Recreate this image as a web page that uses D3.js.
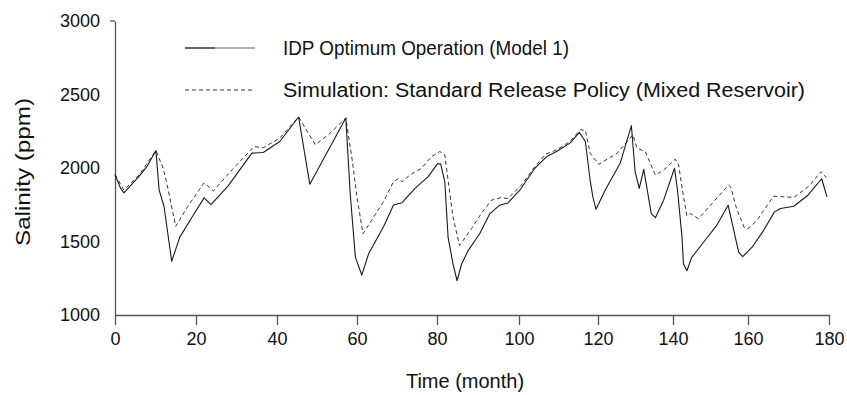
<!DOCTYPE html>
<html>
<head>
<meta charset="utf-8">
<script src="https://cdn.jsdelivr.net/npm/d3@7"></script>
<style>
  body { margin: 0; background: #fff; }
  svg { display: block; }
  text { font-family: "Liberation Sans", Arial, Helvetica, sans-serif; fill: #111; }
</style>
</head>
<body>
<svg id="chart" width="847" height="395"></svg>
<script>
// ---- data ----
const xTicks = [0, 20, 40, 60, 80, 100, 120, 140, 160, 180];
const yTicks = [1000, 1500, 2000, 2500, 3000];

// IDP optimum operation (Model 1): month, salinity (ppm)
const optMonths = [0, 1.4, 2.2, 6, 8, 10.1, 10.9, 12.1, 14, 16, 19, 22, 23.7, 28, 33.8, 36.6, 40.7, 45.4, 48.2,
  57.2, 58.3, 59.6, 61.2, 62.9, 66.6, 69.1, 70.4, 71.2, 74.5, 77.8, 80.1, 80.9, 81.9, 82.7, 83.9, 84.9, 86,
  87.6, 90.4, 92.9, 95.3, 97.3, 100.2, 104, 107, 109.5, 112.9, 115.3, 116.8, 118, 118.7, 119.5, 121.9, 125.9,
  128.9, 129.9, 131, 132.2, 134.2, 135.3, 137.5, 140.4, 141.2, 142.4, 142.8, 143.7, 145, 148.3, 151.8, 154.7,
  157.5, 158.6, 161, 163.5, 166.5, 168, 171.3, 174.8, 178.2, 179.5];
const optSalinity = [1955, 1861, 1831, 1945, 2015, 2119, 1849, 1740, 1365, 1530, 1665, 1797, 1751, 1880, 2101, 2105, 2180, 2347, 1890,
  2340, 1827, 1392, 1272, 1416, 1598, 1747, 1758, 1762, 1861, 1941, 2028, 2028, 1906, 1530, 1347, 1233, 1347,
  1438, 1553, 1690, 1747, 1762, 1849, 1998, 2078, 2112, 2169, 2242, 2180, 1918, 1803, 1719, 1849, 2032,
  2288, 1975, 1861, 1991, 1690, 1662, 1781, 1998, 1849, 1530, 1347, 1301, 1392, 1500, 1615, 1747,
  1427, 1397, 1461, 1560, 1700, 1725, 1740, 1815, 1927, 1803];

// Simulation, standard release policy (mixed reservoir): month, salinity (ppm)
const simMonths = [0, 2.2, 6, 10.1, 11.9, 12.8, 15, 18, 22, 24.3, 29, 34.3, 36.6, 40.7, 45.4, 49.6, 53, 57.2,
  58.8, 60, 61.5, 66.6, 69.1, 70.4, 71.2, 73.2, 76.1, 78.6, 80.7, 81.9, 82.7, 83.9, 85.5, 88.4, 90.8, 93.3,
  95.7, 97.3, 100.6, 104, 106.8, 109.5, 112.9, 115.5, 116.8, 118, 120.2, 125.1, 128.6, 129.3, 130.4, 132.6,
  135.3, 137.5, 140.6, 141.5, 142.8, 143.7, 144.7, 146.8, 154.8, 155.4, 157, 159, 160, 162.1, 166.3, 168.3,
  171.3, 175.2, 178, 178.6, 179.3];
const simSalinity = [1955, 1850, 1955, 2119, 1998, 1895, 1603, 1740, 1900, 1845, 1990, 2146, 2138, 2203, 2347, 2158, 2230, 2340,
  2055, 1803, 1553, 1770, 1906, 1929, 1906, 1952, 1998, 2077, 2112, 2089, 1918, 1667, 1473, 1587, 1690, 1781,
  1799, 1792, 1884, 2009, 2095, 2123, 2180, 2260, 2256, 2101, 2025, 2101, 2204, 2226, 2135, 2112,
  1952, 1986, 2060, 2021, 1803, 1675, 1690, 1655, 1884, 1870, 1720, 1595, 1587, 1640, 1808, 1805,
  1800, 1880, 1975, 1960, 1935];

const seriesNames = ["IDP Optimum Operation (Model 1)", "Simulation: Standard Release Policy (Mixed Reservoir)"];
const xTitle = "Time (month)";
const yTitle = "Salinity (ppm)";

// ---- layout ----
const svg = d3.select("#chart");
// pixel position of each month tick along the time axis
const xTickPx = [115, 196, 277, 357, 437, 519, 598, 673, 748, 829];
const x = d3.scaleLinear().domain(xTicks).range(xTickPx);
const y = d3.scaleLinear().domain([1000, 3000]).range([315, 21]);
const axisColor = "#555";

// x axis
const gx = svg.append("g")
  .attr("transform", `translate(0,${y(1000)})`)
  .call(d3.axisBottom(x).tickValues(xTicks).tickSizeInner(10).tickSizeOuter(0).tickPadding(7));
gx.select(".domain").attr("stroke", axisColor).attr("stroke-width", 1.3);
gx.selectAll(".tick line").attr("stroke", axisColor).attr("stroke-width", 1.3);
gx.selectAll(".tick text").attr("font-size", 18).attr("font-family", null).attr("fill", "#111");

// y axis
const gy = svg.append("g")
  .attr("transform", `translate(${x(0)},0)`)
  .call(d3.axisLeft(y).tickValues(yTicks).tickFormat(d3.format("d"))
    .tickSizeInner(0).tickSizeOuter(0).tickPadding(15));
gy.select(".domain").attr("stroke", axisColor).attr("stroke-width", 1.3);
gy.selectAll(".tick text").attr("font-size", 18).attr("font-family", null).attr("fill", "#111");
gy.append("line")
  .attr("x1", -5).attr("x2", 0)
  .attr("y1", y(3000)).attr("y2", y(3000))
  .attr("stroke", axisColor).attr("stroke-width", 1.3);

// axis titles
svg.append("text")
  .attr("x", 465).attr("y", 388)
  .attr("text-anchor", "middle").attr("font-size", 20)
  .text(xTitle);
svg.append("text")
  .attr("transform", "translate(30,172) rotate(-90)")
  .attr("text-anchor", "middle").attr("font-size", 21)
  .attr("textLength", 148).attr("lengthAdjust", "spacingAndGlyphs")
  .text(yTitle);

// series lines
const line = d3.line().x(d => x(d[0])).y(d => y(d[1]));
const simData = simMonths.map((m, i) => [m, simSalinity[i]]);
const optData = optMonths.map((m, i) => [m, optSalinity[i]]);

svg.append("path")
  .datum(simData)
  .attr("d", line)
  .attr("fill", "none")
  .attr("stroke", "#333")
  .attr("stroke-width", 1)
  .attr("stroke-dasharray", "4,3");

svg.append("path")
  .datum(optData)
  .attr("d", line)
  .attr("fill", "none")
  .attr("stroke", "#1a1a1a")
  .attr("stroke-width", 1.1)
  .attr("stroke-linejoin", "round");

// legend
const legend = svg.append("g").attr("transform", "translate(185,48)");
legend.append("line").attr("x1", 0).attr("x2", 30).attr("y1", 0).attr("y2", 0)
  .attr("stroke", "#111").attr("stroke-width", 1.3);
legend.append("line").attr("x1", 30).attr("x2", 70).attr("y1", 0).attr("y2", 0)
  .attr("stroke", "#999").attr("stroke-width", 1.3);
legend.append("text").attr("x", 98).attr("y", 0).attr("dy", "0.35em")
  .attr("font-size", 20)
  .attr("textLength", 286).attr("lengthAdjust", "spacingAndGlyphs")
  .text(seriesNames[0]);
legend.append("line").attr("x1", 0).attr("x2", 70).attr("y1", 42).attr("y2", 42)
  .attr("stroke", "#333").attr("stroke-width", 1).attr("stroke-dasharray", "4,3");
legend.append("text").attr("x", 98).attr("y", 42).attr("dy", "0.35em")
  .attr("font-size", 20)
  .attr("textLength", 522).attr("lengthAdjust", "spacingAndGlyphs")
  .text(seriesNames[1]);
</script>
</body>
</html>
